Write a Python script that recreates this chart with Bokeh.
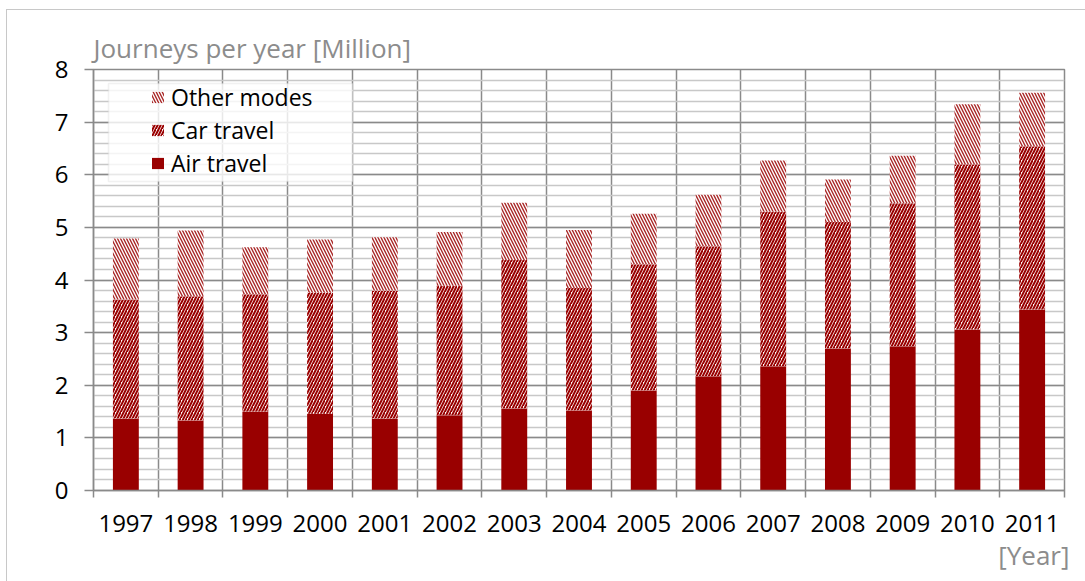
from bokeh.plotting import figure
from bokeh.models import (Range1d, FixedTicker, BoxAnnotation, Legend, LegendItem, Title)
from bokeh.embed import file_html
from bokeh.resources import INLINE

years = ["1997", "1998", "1999", "2000", "2001", "2002", "2003", "2004",
         "2005", "2006", "2007", "2008", "2009", "2010", "2011"]
air_travel = [1.37, 1.33, 1.50, 1.46, 1.37, 1.43, 1.56, 1.52, 1.90, 2.17, 2.36, 2.70, 2.74, 3.06, 3.44]
car_travel = [2.26, 2.36, 2.23, 2.30, 2.43, 2.46, 2.82, 2.33, 2.40, 2.47, 2.94, 2.40, 2.72, 3.14, 3.10]
other_modes = [1.16, 1.25, 0.89, 1.01, 1.01, 1.02, 1.09, 1.10, 0.96, 0.98, 0.97, 0.81, 0.90, 1.14, 1.02]
y_ticks = [0, 1, 2, 3, 4, 5, 6, 7, 8]

FONT = "Open Sans"
RED = "#990000"
MAJOR = "#8a8a8a"
MINOR = "#c8c8c8"

n = len(years)
xs = [i + 0.5 for i in range(n)]
car_bottom = air_travel
car_top = [a + c for a, c in zip(air_travel, car_travel)]
other_top = [t + o for t, o in zip(car_top, other_modes)]

OX, OY = 6, 9  # outer border offset
p = figure(width=1085 - OX, height=581 - OY, output_backend="svg", toolbar_location=None,
           x_range=Range1d(0, n), y_range=Range1d(0, 8),
           min_border_left=86, min_border_right=23, min_border_top=59, min_border_bottom=93)
p.margin = (OY, 0, 0, OX)
p.styles = {"border-top": "1px solid #c8c8c8", "border-left": "1px solid #c8c8c8",
            "box-sizing": "content-box"}
p.background_fill_color = "white"
p.border_fill_color = "white"
p.outline_line_color = MAJOR
p.outline_line_width = 1.5

# title
p.title.text = "Journeys per year [Million]"
p.title.align = "left"
p.title.text_font = FONT
p.title.text_font_size = "26px"
p.title.text_font_style = "normal"
p.title.text_color = "#8c8c8c"
p.title.standoff = 8

# grids
p.xgrid.ticker = FixedTicker(ticks=list(range(n + 1)))
p.xgrid.grid_line_color = MAJOR
p.xgrid.grid_line_width = 1.5
yt = FixedTicker(ticks=y_ticks, minor_ticks=[round(i * 0.2, 1) for i in range(41)])
p.yaxis.ticker = yt
p.ygrid.ticker = yt
p.ygrid.grid_line_color = MAJOR
p.ygrid.grid_line_width = 1.5
p.ygrid.minor_grid_line_color = MINOR
p.ygrid.minor_grid_line_width = 1.5

# axes
xt = FixedTicker(ticks=xs, minor_ticks=list(range(n + 1)))
p.xaxis.ticker = xt
p.xaxis.major_label_overrides = {x: y for x, y in zip(xs, years)}
p.xaxis.major_tick_line_color = None
p.xaxis.major_tick_out = 0
p.xaxis.major_tick_in = 0
p.xaxis.minor_tick_line_color = MAJOR
p.xaxis.minor_tick_line_width = 1.5
p.xaxis.minor_tick_out = 7
p.xaxis.minor_tick_in = 0
p.xaxis.axis_line_color = MAJOR
p.xaxis.axis_line_width = 1.5
p.xaxis.major_label_standoff = 17
for ax in (p.xaxis, p.yaxis):
    ax.major_label_text_font = FONT
    ax.major_label_text_font_size = "24px"
    ax.major_label_text_color = "black"

p.yaxis.minor_tick_line_color = None
p.yaxis.major_tick_line_color = MAJOR
p.yaxis.major_tick_line_width = 1.5
p.yaxis.major_tick_out = 9
p.yaxis.major_tick_in = 0
p.yaxis.axis_line_color = MAJOR
p.yaxis.axis_line_width = 1.5
p.yaxis.major_label_standoff = 16

W = 0.4
r_air = p.vbar(x=xs, bottom=0, top=air_travel, width=W, fill_color=RED, line_color=None)
r_car = p.vbar(x=xs, bottom=car_bottom, top=car_top, width=W, fill_color="white", line_color=None,
               hatch_pattern="right_diagonal_line", hatch_color=RED, hatch_scale=6, hatch_weight=2.0)
r_oth = p.vbar(x=xs, bottom=car_top, top=other_top, width=W, fill_color="white", line_color=None,
               hatch_pattern="left_diagonal_line", hatch_color=RED, hatch_scale=6, hatch_weight=1.4,
               hatch_alpha=0.85)

# legend box
p.add_layout(BoxAnnotation(left=108 - 93, right=352 - 93, top=489 - 82, bottom=489 - 180,
                           left_units="screen", right_units="screen", top_units="screen", bottom_units="screen",
                           fill_color="white", fill_alpha=0.8, line_color="#d0d0d0", line_width=1.5))

legend = Legend(items=[LegendItem(label="Other modes", renderers=[r_oth]),
                       LegendItem(label="Car travel", renderers=[r_car]),
                       LegendItem(label="Air travel", renderers=[r_air])],
                location=(150 - 93, 489 - 178), padding=0, margin=0, spacing=0,
                glyph_width=15, glyph_height=14, label_height=33, label_standoff=6,
                label_text_font=FONT, label_text_font_size="23px", label_text_color="black",
                background_fill_alpha=0, border_line_color=None)
p.add_layout(legend)

xtitle = Title(text="[Year]", align="right", text_font=FONT, text_font_size="26px",
               text_font_style="normal", text_color="#8c8c8c", standoff=0, offset=-5)
p.add_layout(xtitle, "below")

open("out.html", "w").write(file_html(p, INLINE))
